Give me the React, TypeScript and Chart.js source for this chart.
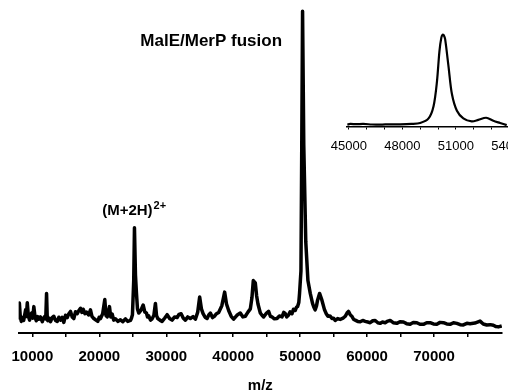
import React, { useEffect, useRef } from 'react';
import { Chart, registerables } from 'chart.js';

Chart.register(...registerables);

const FONT = '"Liberation Sans", Arial, Helvetica, sans-serif';

// Main spectrum: m/z and relative intensity (%)
const mzValues = [
  7950, 8060, 8200, 8350, 8490, 8700, 8990, 9100, 9240, 9400,
  9580, 9700, 9880, 10050, 10220, 10400, 10580, 10780, 10970, 11200,
  11480, 11650, 11870, 12000, 12120, 12220, 12310, 12500, 12720, 12950,
  13210, 13450, 13720, 13950, 14210, 14450, 14700, 14950, 15210, 15450,
  15700, 15950, 16190, 16450, 16700, 16950, 17190, 17400, 17590, 17850,
  18090, 18400, 18680, 18900, 19180, 19500, 19770, 19980, 20180, 20500,
  20820, 21000, 21180, 21350, 21520, 21700, 21920, 22150, 22410, 22800,
  23160, 23500, 23900, 24250, 24650, 24800, 24950, 25140, 25250, 25400,
  25550, 25700, 25890, 26200, 26550, 26800, 27040, 27200, 27380, 27650,
  27890, 28150, 28380, 28550, 28730, 29050, 29380, 29750, 30130, 30500,
  30870, 31250, 31620, 31900, 32220, 32550, 32860, 33200, 33600, 34000,
  34350, 34700, 34990, 35250, 35500, 35800, 36100, 36350, 36590, 36900,
  37180, 37500, 37830, 38300, 38720, 39000, 39320, 39700, 40060, 40550,
  41060, 41450, 41810, 42200, 42560, 42800, 43000, 43300, 43500, 43700,
  44050, 44300, 44540, 44900, 45290, 45550, 45790, 46150, 46540, 46900,
  47290, 47550, 47780, 48000, 48270, 48500, 48780, 49000, 49270, 49450,
  49610, 49800, 49910, 50120, 50240, 50360, 50540, 50840, 51160, 51510,
  51850, 52050, 52250, 52450, 52600, 52900, 53250, 53640, 53900, 54150,
  54450, 54750, 55000, 55240, 55600, 55980, 56400, 56730, 57000, 57220,
  57500, 57730, 58000, 58220, 58600, 58970, 59350, 59710, 60100, 60460,
  60850, 61210, 61600, 61950, 62300, 62700, 63100, 63440, 63900, 64440,
  64900, 65430, 65900, 66430, 66900, 67430, 67900, 68410, 68900, 69410,
  69900, 70410, 70900, 71400, 71900, 72400, 72900, 73400, 73900, 74380,
  74900, 75380, 76100, 76870, 77350, 77870, 78400, 78860, 79250, 79600,
  80110,
];
const intensityValues = [
  4.2, 9.3, 5.0, 3.6, 4.8, 3.9, 7.2, 5.1, 9.4, 5.3,
  4.0, 5.6, 6.2, 4.6, 8.2, 4.9, 3.8, 5.1, 4.3, 5.0,
  3.5, 4.6, 5.2, 4.4, 12.3, 5.0, 3.8, 4.6, 3.5, 4.8,
  5.2, 3.9, 3.6, 4.9, 4.0, 4.9, 3.3, 5.5, 4.8, 6.0,
  6.7, 5.0, 4.5, 6.6, 6.0, 7.0, 7.7, 6.4, 7.4, 6.0,
  6.5, 5.6, 7.2, 5.2, 4.5, 4.0, 3.6, 4.9, 4.5, 6.0,
  10.4, 5.4, 5.0, 6.5, 8.2, 5.0, 5.9, 4.0, 4.4, 3.6,
  4.1, 3.5, 4.4, 3.6, 3.9, 4.6, 5.7, 16.3, 32.7, 18.0,
  12.3, 7.5, 6.2, 7.0, 8.7, 6.5, 6.2, 5.0, 5.3, 4.0,
  4.4, 5.5, 9.2, 5.4, 4.5, 4.0, 3.6, 4.6, 5.7, 4.5,
  4.0, 5.0, 4.8, 5.8, 6.0, 4.6, 4.0, 5.0, 4.5, 5.1,
  4.3, 6.5, 11.2, 7.5, 6.0, 4.9, 4.5, 5.6, 6.2, 4.8,
  5.2, 6.0, 6.4, 8.5, 12.7, 9.0, 7.0, 5.2, 4.3, 5.5,
  6.2, 5.0, 5.2, 6.5, 7.5, 11.0, 16.3, 15.6, 11.5, 9.0,
  6.2, 5.5, 5.0, 6.0, 6.7, 5.2, 5.0, 4.4, 4.5, 5.3,
  5.0, 6.4, 6.0, 5.0, 5.6, 6.6, 6.0, 7.4, 7.0, 8.0,
  8.2, 9.5, 12.3, 19.3, 58.4, 100, 58.4, 28.3, 16.3, 12.3,
  9.2, 8.0, 7.2, 8.5, 10.2, 12.3, 10.2, 7.2, 6.0, 5.2,
  5.3, 4.5, 4.6, 3.9, 4.5, 4.2, 4.6, 5.2, 6.2, 6.7,
  5.6, 5.2, 4.2, 4.0, 3.6, 3.5, 3.9, 3.6, 3.4, 3.2,
  3.8, 3.9, 3.2, 3.0, 3.4, 3.2, 3.7, 3.9, 3.2, 3.0,
  3.5, 3.4, 2.9, 2.7, 3.3, 3.2, 2.7, 2.7, 3.2, 3.2,
  2.8, 2.7, 3.3, 3.2, 2.8, 2.7, 3.2, 3.0, 2.6, 2.5,
  3.0, 2.9, 3.1, 3.7, 2.8, 2.5, 2.6, 2.4, 2.0, 1.9,
  2.2,
];

// Inset: zoom on the main peak
const insetMz = [
  44920, 45080, 45400, 45810, 46300, 46760, 47300, 47880, 48500, 49000,
  49470, 49750, 49940, 50080, 50190, 50270, 50330, 50400, 50590, 50780,
  51060, 51420, 51890, 52260, 52700, 53100, 53480, 53850,
];
const insetIntensity = [
  2.0, 2.8, 2.5, 2.8, 2.2, 2.0, 2.4, 2.4, 2.8, 3.8,
  8.8, 22.1, 48.6, 81.8, 97, 100, 99, 95, 65.2, 35.3,
  17.1, 8.8, 5.5, 7.2, 9.5, 6.2, 3.8, 1.5,
];

const mainTickValues = [10000, 15000, 20000, 25000, 30000, 35000, 40000, 45000, 50000, 55000, 60000, 65000, 70000, 75000];
const mainTickLabels = ['10000', '', '20000', '', '30000', '', '40000', '', '50000', '', '60000', '', '70000', ''];
const insetTickValues = [45000, 46000, 47000, 48000, 49000, 50000, 51000, 52000, 53000, 54000];
const insetTickLabels = ['45000', '', '', '48000', '', '', '51000', '', '', '54000'];

const peakLabelPlugin = {
  id: 'peakLabels',
  afterDatasetsDraw(chart: any) {
    const { ctx } = chart;
    const x = chart.scales.x;
    const y = chart.scales.y;
    ctx.save();
    ctx.fillStyle = '#000';
    ctx.textBaseline = 'alphabetic';
    ctx.font = `bold 17px ${FONT}`;
    ctx.textAlign = 'right';
    ctx.fillText('MalE/MerP fusion', x.getPixelForValue(47290), y.getPixelForValue(89.1));
    ctx.font = `bold 15px ${FONT}`;
    ctx.textAlign = 'left';
    const px = x.getPixelForValue(20430);
    const py = y.getPixelForValue(36.6);
    ctx.fillText('(M+2H)', px, py);
    const w = ctx.measureText('(M+2H)').width;
    ctx.font = `bold 11px ${FONT}`;
    ctx.fillText('2+', px + w + 1, py - 6.5);
    ctx.restore();
  },
};

export default function App() {
  const mainRef = useRef<HTMLCanvasElement>(null);
  const insetRef = useRef<HTMLCanvasElement>(null);

  useEffect(() => {
    const mainChart = new Chart(mainRef.current as HTMLCanvasElement, {
      type: 'line',
      data: {
        datasets: [
          {
            data: mzValues.map((m, i) => ({ x: m, y: intensityValues[i] })),
            borderColor: '#000',
            borderWidth: 3.5,
            pointRadius: 0,
            tension: 0,
            fill: false,
            borderJoinStyle: 'round',
          },
        ],
      },
      options: {
        responsive: false,
        animation: false,
        layout: { padding: { left: 18, right: 6, top: 0, bottom: 2 } },
        plugins: { legend: { display: false }, tooltip: { enabled: false } },
        scales: {
          x: {
            type: 'linear',
            min: 7950,
            max: 80150,
            afterBuildTicks: (s: any) => {
              s.ticks = mainTickValues.map((v) => ({ value: v }));
            },
            ticks: {
              autoSkip: false,
              maxRotation: 0,
              padding: 11,
              color: '#000',
              font: { family: FONT, size: 15, weight: 'bold' },
              callback: (_v: any, i: number) => mainTickLabels[i],
            },
            grid: { display: true, drawOnChartArea: false, drawTicks: true, tickLength: 4, color: '#000', lineWidth: 1.5 },
            border: { display: true, color: '#000', width: 2 },
            title: {
              display: true,
              text: 'm/z',
              color: '#000',
              font: { family: FONT, size: 15, weight: 'bold' },
              padding: { top: 0, bottom: 3 },
            },
          },
          y: { display: false, min: 0, max: 103.5 },
        },
      },
      plugins: [peakLabelPlugin],
    } as any);

    const insetChart = new Chart(insetRef.current as HTMLCanvasElement, {
      type: 'line',
      data: {
        datasets: [
          {
            data: insetMz.map((m, i) => ({ x: m, y: insetIntensity[i] })),
            borderColor: '#000',
            borderWidth: 2.2,
            pointRadius: 0,
            tension: 0.3,
            fill: false,
          },
        ],
      },
      options: {
        responsive: false,
        animation: false,
        layout: { padding: { left: 27, right: 21.7, top: 30, bottom: 6.9 } },
        plugins: { legend: { display: false }, tooltip: { enabled: false } },
        scales: {
          x: {
            type: 'linear',
            min: 44900,
            max: 54500,
            afterBuildTicks: (s: any) => {
              s.ticks = insetTickValues.map((v) => ({ value: v }));
            },
            ticks: {
              autoSkip: false,
              maxRotation: 0,
              padding: 9,
              color: '#000',
              font: { family: FONT, size: 13 },
              callback: (_v: any, i: number) => insetTickLabels[i],
            },
            grid: { display: true, drawOnChartArea: false, drawTicks: true, tickLength: 3, color: '#000', lineWidth: 1 },
            border: { display: true, color: '#000', width: 1.5 },
          },
          y: { display: false, min: 0, max: 105 },
        },
      },
    } as any);

    return () => {
      mainChart.destroy();
      insetChart.destroy();
    };
  }, []);

  return (
    <div
      style={{
        position: 'fixed',
        left: 0,
        top: 0,
        width: 508,
        height: 390,
        overflow: 'hidden',
        background: '#fff',
      }}
    >
      <canvas
        ref={mainRef}
        width={508}
        height={400}
        style={{ position: 'absolute', left: 0, top: 0, width: 508, height: 400 }}
      />
      <canvas
        ref={insetRef}
        width={220}
        height={170}
        style={{ position: 'absolute', left: 320, top: 0, width: 220, height: 170 }}
      />
    </div>
  );
}
